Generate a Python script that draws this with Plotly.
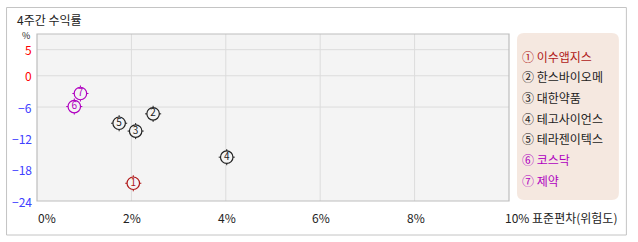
import plotly.graph_objects as go

# ---- data ----
names = ["이수앱지스", "한스바이오메", "대한약품", "테고사이언스", "테라젠이텍스", "코스닥", "제약"]
markers = ["①", "②", "③", "④", "⑤", "⑥", "⑦"]
digits = ["1", "2", "3", "4", "5", "6", "7"]
risk = [2.04, 2.46, 2.09, 4.02, 1.74, 0.79, 0.92]        # 표준편차 (%)
ret = [-20.6, -7.3, -10.6, -15.6, -9.1, -5.9, -3.4]       # 4주간 수익률 (%)
colors = ["#b01818", "#222222", "#222222", "#222222", "#222222", "#b000c0", "#b000c0"]

x_ticks = [0, 2, 4, 6, 8, 10]
x_labels = ["0%", "2%", "4%", "6%", "8%", "10% 표준편차(위험도)"]
y_ticks = [5, 0, -6, -12, -18, -24]
y_labels = ["5", "0", "-6", "-12", "-18", "-24"]
y_label_colors = ["#ff0000", "#ff0000", "#4040ff", "#4040ff", "#4040ff", "#4040ff"]
y_grid = [5, 0, -6]
x_grid = [2, 4, 6, 8]

W, H = 638, 242
L, R, T, B = 37, 509.5, 34, 201
FONT = "Noto Sans CJK KR"
BG = "#f4f4f4"


def px(x):
    return (x - L) / (R - L)


def py(y):
    return (B - y) / (B - T)


fig = go.Figure()

# tick crosses (drawn under circles)
fig.add_trace(go.Scatter(
    x=risk, y=ret, mode="markers", hoverinfo="skip",
    marker=dict(symbol="cross-thin-open", size=11.5, color=colors, line=dict(width=1, color=colors)),
))
# circles with digits
fig.add_trace(go.Scatter(
    x=risk, y=ret, mode="markers+text", text=digits, textposition="middle center",
    textfont=dict(family=FONT, size=10, color=colors),
    marker=dict(symbol="circle", size=12.5, color=BG, line=dict(width=1.2, color=colors)),
    hovertext=names, hoverinfo="text+x+y",
))

shapes = []
# outer frame
shapes.append(dict(type="rect", xref="paper", yref="paper",
                   x0=px(6.5), x1=px(627), y0=py(7.5), y1=py(235),
                   line=dict(color="#c4c4c4", width=1), layer="below"))
# grid lines
for g in y_grid:
    shapes.append(dict(type="line", xref="paper", yref="y", x0=0, x1=1, y0=g, y1=g,
                       line=dict(color="#dcdcdc", width=1), layer="below"))
for g in x_grid:
    shapes.append(dict(type="line", xref="x", yref="paper", x0=g, x1=g, y0=0, y1=1,
                       line=dict(color="#dcdcdc", width=1), layer="below"))
# plot border
shapes.append(dict(type="rect", xref="paper", yref="paper", x0=0, x1=1, y0=0, y1=1,
                   line=dict(color="#bdbdbd", width=1.2), layer="above"))
# legend box (rounded)
lx0, lx1, ly0, ly1, rr = 517.5, 619.5, 33, 200, 7
path = (f"M {px(lx0 + rr)},{py(ly0)} L {px(lx1 - rr)},{py(ly0)} "
        f"Q {px(lx1)},{py(ly0)} {px(lx1)},{py(ly0 + rr)} "
        f"L {px(lx1)},{py(ly1 - rr)} Q {px(lx1)},{py(ly1)} {px(lx1 - rr)},{py(ly1)} "
        f"L {px(lx0 + rr)},{py(ly1)} Q {px(lx0)},{py(ly1)} {px(lx0)},{py(ly1 - rr)} "
        f"L {px(lx0)},{py(ly0 + rr)} Q {px(lx0)},{py(ly0)} {px(lx0 + rr)},{py(ly0)} Z")
shapes.append(dict(type="path", xref="paper", yref="paper", path=path,
                   fillcolor="#f5e8e0", line=dict(width=0), layer="below"))

ann = []
# title
ann.append(dict(text="4주간 수익률", xref="paper", yref="paper", x=px(15.5), y=py(19),
                xanchor="left", yanchor="middle", showarrow=False, borderpad=0,
                font=dict(family=FONT, size=12, color="#222222")))
# % label
ann.append(dict(text="%", xref="paper", yref="paper", x=px(25.5), y=py(35.5),
                xanchor="center", yanchor="middle", showarrow=False, borderpad=0,
                font=dict(family=FONT, size=9, color="#222222")))
# y tick labels
for v, t, c in zip(y_ticks, y_labels, y_label_colors):
    ann.append(dict(text=t.replace("-", "−"), xref="paper", yref="y", x=px(32.5), y=v,
                    xanchor="right", yanchor="middle", showarrow=False, borderpad=0,
                    font=dict(family=FONT, size=12, color=c)))
# x tick labels
for v, t in zip(x_ticks, x_labels):
    if v == x_ticks[0]:
        xa, xs = "left", 0
    elif v == x_ticks[-1]:
        xa, xs = "left", -5
    else:
        xa, xs = "center", 1
    ann.append(dict(text=t, xref="x", yref="paper", x=v, xshift=xs, y=py(217),
                    xanchor=xa, yanchor="middle", showarrow=False, borderpad=0,
                    font=dict(family=FONT, size=12, color="#222222")))
# legend entries
for i, (m, n, c) in enumerate(zip(markers, names, colors)):
    ann.append(dict(text=f"{m} {n}", xref="paper", yref="paper", x=px(521.5), y=py(56 + i * 20.7),
                    xanchor="left", yanchor="middle", showarrow=False, borderpad=0,
                    font=dict(family=FONT, size=12, color=c)))

fig.update_layout(
    width=W, height=H,
    margin=dict(l=L, r=W - R, t=T, b=H - B),
    paper_bgcolor="white", plot_bgcolor=BG,
    showlegend=False,
    shapes=shapes, annotations=ann,
    xaxis=dict(range=[0, 10], showgrid=False, zeroline=False, showticklabels=False,
               ticks="", fixedrange=True),
    yaxis=dict(range=[-24, 8], showgrid=False, zeroline=False, showticklabels=False,
               ticks="", fixedrange=True),
)

fig.write_html("out.html", config={"displayModeBar": False})
